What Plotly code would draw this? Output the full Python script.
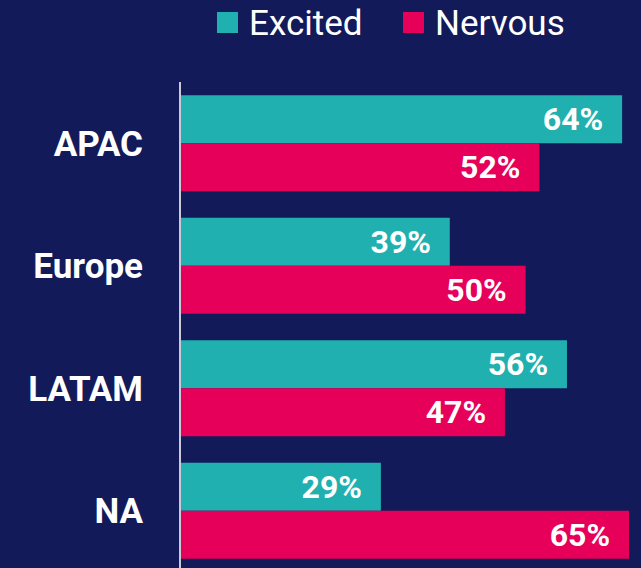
import plotly.graph_objects as go

regions = ["APAC", "Europe", "LATAM", "NA"]
excited = [64, 39, 56, 29]
nervous = [52, 50, 47, 65]
series_names = ["Excited", "Nervous"]

BG = "#121A5A"
TEAL = "#1FB0AF"
CRIMSON = "#E6005A"
W, H = 641, 568
ML, MR, MT, MB = 181, 12, 82, 0
PW, PH = W - ML - MR, H - MT - MB

def px_x(p):
    return (p - ML) / PW

def px_y(p):
    return (H - MB - p) / PH

pad = "\u00a0\u00a0"
fig = go.Figure()
for name, vals, col in [(series_names[0], excited, TEAL), (series_names[1], nervous, CRIMSON)]:
    fig.add_trace(go.Bar(
        y=regions, x=vals, orientation="h", name=name,
        marker=dict(color=col, line=dict(width=0)),
        text=[f"{v}%{pad}" for v in vals],
        textposition="inside", insidetextanchor="end",
        textfont=dict(family="Roboto", size=32, color="white", weight="bold"),
        cliponaxis=False, showlegend=False, hoverinfo="skip",
    ))

# manual legend
legend_items = [(series_names[0], TEAL, 217, 249), (series_names[1], CRIMSON, 403, 435)]
for name, col, sx, tx in legend_items:
    fig.add_shape(type="rect", xref="paper", yref="paper",
                  x0=px_x(sx), x1=px_x(sx + 21), y0=px_y(33), y1=px_y(12),
                  fillcolor=col, line=dict(width=0))
    fig.add_annotation(xref="paper", yref="paper", x=px_x(tx - 2), y=px_y(24),
                       xanchor="left", yanchor="middle", showarrow=False,
                       text=name, font=dict(family="Roboto", size=35, color="white"))

fig.update_layout(
    width=W, height=H,
    margin=dict(l=ML, r=MR, t=MT, b=MB, pad=0),
    paper_bgcolor=BG, plot_bgcolor=BG,
    barmode="group", bargap=0.216, bargroupgap=0,
    xaxis=dict(range=[0, 65], showgrid=False, zeroline=False, showticklabels=False,
               showline=False, ticks=""),
    yaxis=dict(range=[3.467, -0.5], showgrid=False, zeroline=False,
               showline=True, linecolor="#C9CAD6", linewidth=2,
               ticks="outside", ticklen=29, tickcolor="rgba(0,0,0,0)",
               tickfont=dict(family="Roboto", size=35, color="white", weight="bold")),
    font=dict(family="Roboto", color="white"),
)

fig.write_html("out.html", config={"displayModeBar": False},
               post_script="document.body.style.margin='0';document.body.style.overflow='hidden';")
